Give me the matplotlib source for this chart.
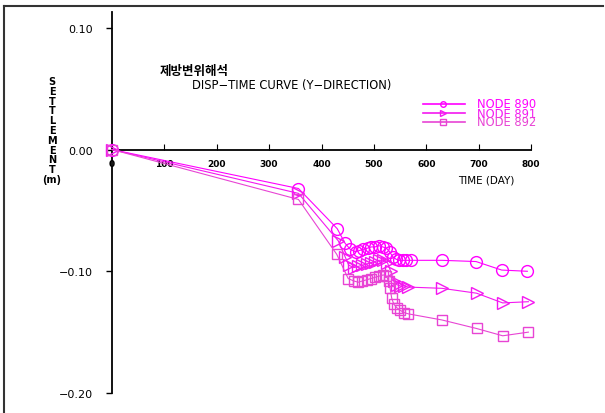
import matplotlib
matplotlib.use("Agg")
import matplotlib.pyplot as plt
from matplotlib.lines import Line2D

plt.rcParams['font.family'] = ['DejaVu Sans', 'Noto Sans CJK KR']

# NODE 890 (circles)
days_890 = [0, 356, 430, 445, 455, 465, 472, 480, 488, 495, 502, 510, 517, 524,
            530, 536, 542, 548, 555, 562, 570, 630, 695, 744, 793]
disp_890 = [0.0, -0.032, -0.065, -0.077, -0.082, -0.084, -0.083, -0.082, -0.081,
            -0.080, -0.080, -0.079, -0.080, -0.081, -0.084, -0.088, -0.090, -0.091,
            -0.091, -0.091, -0.091, -0.091, -0.092, -0.099, -0.100]

# NODE 891 (triangles)
days_891 = [0, 356, 432, 445, 452, 462, 470, 478, 486, 494, 502, 510, 518, 526,
            532, 538, 544, 550, 558, 566, 630, 696, 746, 795]
disp_891 = [0.0, -0.036, -0.075, -0.088, -0.095, -0.097, -0.096, -0.095, -0.094,
            -0.093, -0.092, -0.091, -0.091, -0.093, -0.100, -0.108, -0.111, -0.112,
            -0.112, -0.113, -0.114, -0.118, -0.126, -0.125]

# NODE 892 (squares)
days_892 = [0, 356, 429, 451, 462, 470, 478, 486, 494, 502, 510, 518, 524, 528,
            531, 534, 538, 544, 550, 558, 566, 630, 696, 746, 795]
disp_892 = [0.0, -0.041, -0.086, -0.106, -0.108, -0.109, -0.108, -0.107, -0.106,
            -0.105, -0.104, -0.103, -0.104, -0.108, -0.114, -0.122, -0.127, -0.130,
            -0.132, -0.134, -0.135, -0.140, -0.147, -0.153, -0.150]

labels = ["NODE 890", "NODE 891", "NODE 892"]
colors = ["#ff00ff", "#f418f0", "#e844d4"]
markers = ["o", ">", "s"]
msizes = [8.5, 8, 6.5]

x_ticks = [0, 100, 200, 300, 400, 500, 600, 700, 800]
y_ticks = [0.10, 0.00, -0.10, -0.20]

fig = plt.figure(figsize=(6.05, 4.14), dpi=100)
ax = fig.add_axes([112 / 605, 20 / 414, 419 / 605, 381 / 414])

series = [(days_890, disp_890), (days_891, disp_891), (days_892, disp_892)]
for (d, v), c, m, ms in zip(series, colors, markers, msizes):
    ax.plot(d, v, color=c, lw=0.8, marker=m, ms=ms, mfc="none", mec=c,
            mew=1.0, clip_on=False, zorder=3)

ax.set_xlim(0, 800)
ax.set_ylim(-0.20, 0.113)
ax.spines['top'].set_visible(False)
ax.spines['right'].set_visible(False)
ax.spines['bottom'].set_position(('data', 0))
ax.spines['left'].set_linewidth(1.3)
ax.spines['bottom'].set_linewidth(1.3)

ax.set_xticks(x_ticks)
ax.set_xticklabels([str(t) for t in x_ticks], fontsize=6.5, fontweight='bold')
ax.tick_params(axis='x', direction='in', length=4, width=0.8, pad=7)
ax.set_yticks(y_ticks)
ax.set_yticklabels(["0.10", "0.00", "\u22120.10", "\u22120.20"], fontsize=8)
ax.tick_params(axis='y', direction='out', length=4, width=1.0, pad=10)

fig.text(52 / 605, 1 - 131 / 414, "\n".join("SETTLEMENT") + "\n(m)",
         ha='center', va='center', fontsize=7, linespacing=0.97,
         fontweight='bold')

fig.text(160 / 605, 1 - 72 / 414, "제방변위해석", fontsize=9,
         family=['Noto Sans CJK KR', 'DejaVu Sans'], fontweight='bold',
         va='center')
fig.text(192 / 605, 1 - 85 / 414, "DISP\u2212TIME CURVE (Y\u2212DIRECTION)",
         fontsize=8.3, va='center')
fig.text(458 / 605, 1 - 181 / 414, "TIME (DAY)", fontsize=7.5, va='center')

# legend drawn by hand; entries sit close together as in the source
leg_y = [105, 114, 123]
for y, c, m, lab in zip(leg_y, colors, markers, labels):
    yf = 1 - y / 414
    fig.add_artist(Line2D([423 / 605, 465 / 605], [yf, yf], color=c, lw=1.2))
    fig.add_artist(Line2D([443 / 605], [yf], color=c, marker=m, ms=4,
                          mfc="none", mew=1.0))
    fig.text(477 / 605, yf, lab, color=c, fontsize=8.3, va='center')

# outer frame (top and left edges)
fig.add_artist(Line2D([4 / 605, 603 / 605], [1 - 7 / 414, 1 - 7 / 414],
                      color="#333333", lw=1.5))
fig.add_artist(Line2D([4 / 605, 4 / 605], [0, 1 - 7 / 414],
                      color="#333333", lw=1.5))

fig.savefig("out.png", dpi=100)
